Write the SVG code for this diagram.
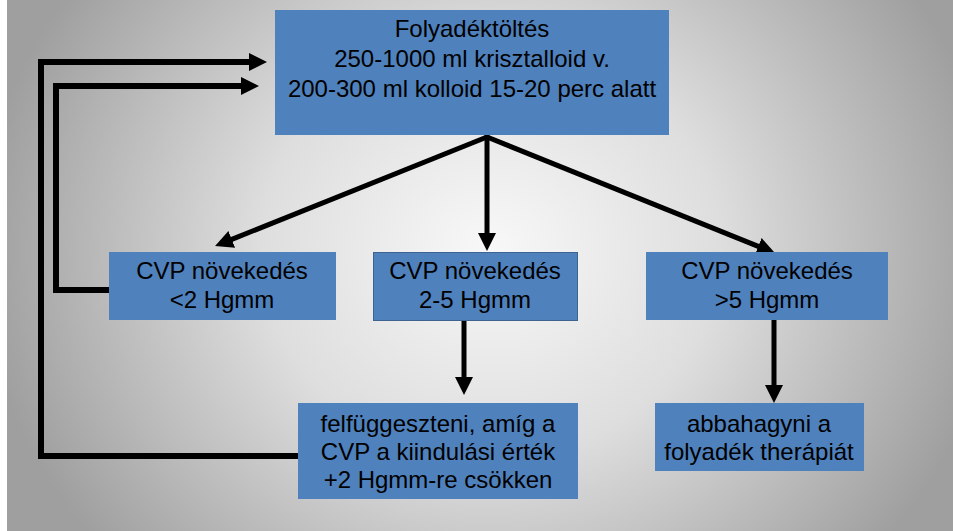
<svg xmlns="http://www.w3.org/2000/svg" width="953" height="531" viewBox="0 0 953 531">
  <defs>
    <radialGradient id="bg" gradientUnits="userSpaceOnUse" cx="490" cy="250" r="510" gradientTransform="translate(490 250) scale(1 0.9) translate(-490 -250)">
      <stop offset="0" stop-color="#f8f8f8"/>
      <stop offset="0.45" stop-color="#dedede"/>
      <stop offset="1" stop-color="#9f9f9f"/>
    </radialGradient>
    <marker id="ah" viewBox="0 0 18 18" refX="2" refY="9" markerWidth="18" markerHeight="18" markerUnits="userSpaceOnUse" orient="auto">
      <path d="M0,0 L18,9 L0,18 z" fill="#000"/>
    </marker>
    <style>
      .box { fill: #4f81bd; }
      .t { font-family: "Liberation Sans", Arial, sans-serif; font-size: 24px; fill: #000; text-anchor: middle; }
      .c { fill: none; stroke: #000; stroke-width: 5; }
      .fb { fill: none; stroke: #000; stroke-width: 6; stroke-linejoin: miter; }
    </style>
  </defs>
  <rect x="0" y="0" width="953" height="531" fill="url(#bg)"/>
  <rect x="0" y="0" width="7" height="531" fill="#ffffff"/>

  <g id="connectors">
    <line class="c" x1="487" y1="137" x2="229.9" y2="240.1" marker-end="url(#ah)"/>
    <line class="c" x1="487" y1="135" x2="487" y2="235" marker-end="url(#ah)"/>
    <line class="c" x1="487" y1="137" x2="760.1" y2="247.1" marker-end="url(#ah)"/>
    <line class="c" x1="464" y1="321" x2="464" y2="379" marker-end="url(#ah)"/>
    <line class="c" x1="774" y1="320" x2="774" y2="387" marker-end="url(#ah)"/>
    <polyline class="fb" points="298,456 41,456 41,62 251,62" marker-end="url(#ah)"/>
    <polyline class="fb" points="109,290 56,290 56,86 243,86" marker-end="url(#ah)"/>
  </g>

  <g id="n-top">
    <rect class="box" x="275" y="10" width="394" height="125"/>
    <text class="t" x="472" y="37">Folyadéktöltés</text>
    <text class="t" x="472" y="67">250-1000 ml krisztalloid v.</text>
    <text class="t" x="472" y="97">200-300 ml kolloid 15-20 perc alatt</text>
  </g>

  <g id="n-lt2">
    <rect class="box" x="109" y="252" width="227" height="68"/>
    <text class="t" x="222" y="279">CVP növekedés</text>
    <text class="t" x="222" y="308">&lt;2 Hgmm</text>
  </g>

  <g id="n-2to5">
    <rect class="box" x="373.5" y="252.5" width="204" height="68" stroke="#3d6391" stroke-width="1"/>
    <text class="t" x="475" y="279">CVP növekedés</text>
    <text class="t" x="475" y="308">2-5 Hgmm</text>
  </g>

  <g id="n-gt5">
    <rect class="box" x="646" y="252" width="242" height="68"/>
    <text class="t" x="767" y="279">CVP növekedés</text>
    <text class="t" x="767" y="308">&gt;5 Hgmm</text>
  </g>

  <g id="n-susp">
    <rect class="box" x="298" y="403" width="280" height="96"/>
    <text class="t" x="438" y="432">felfüggeszteni, amíg a</text>
    <text class="t" x="438" y="460">CVP a kiindulási érték</text>
    <text class="t" x="438" y="488">+2 Hgmm-re csökken</text>
  </g>

  <g id="n-stop">
    <rect class="box" x="655" y="403" width="209" height="68"/>
    <text class="t" x="759" y="432">abbahagyni a</text>
    <text class="t" x="759" y="460">folyadék therápiát</text>
  </g>
</svg>
